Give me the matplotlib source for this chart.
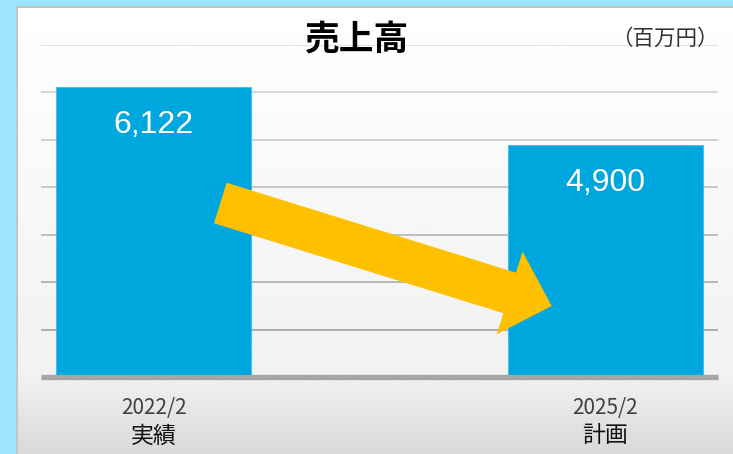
import numpy as np
import matplotlib
matplotlib.use('Agg')
import matplotlib.pyplot as plt
import matplotlib.patches as mpatches
from matplotlib.transforms import Affine2D

# data
periods = ['2022/2', '2025/2']
kinds = ['実績', '計画']
sales = [6122, 4900]
title = '売上高'
unit = '（百万円）'

W, H = 733, 454
plt.rcParams['font.family'] = ['Noto Sans CJK JP', 'DejaVu Sans']

fig = plt.figure(figsize=(W / 100, H / 100), dpi=100)
fig.patch.set_facecolor('#9de4fc')

# panel with vertical gradient
bg = fig.add_axes([17 / W, 0, (W - 17) / W, (H - 7) / H], zorder=0)
ys = np.linspace(7, H, 300)
shade = np.interp(ys, [7, 377, H], [1.0, 0.945, 0.85])
bg.imshow(np.repeat(shade[:, None], 2, axis=1), cmap='gray', vmin=0, vmax=1,
          aspect='auto', extent=[0, 1, 0, 1])
bg.set_xticks([]); bg.set_yticks([])
for name, s in bg.spines.items():
    s.set_color('#c4c4c4'); s.set_linewidth(1.5)
    if name in ('bottom', 'right'):
        s.set_visible(False)

ax = fig.add_axes([41 / W, (H - 377) / H, 677 / W, 332 / H], zorder=1)
ax.patch.set_alpha(0)
x = np.arange(len(sales))
ax.set_xlim(-0.25, 1.25)
ax.set_ylim(0, 7000)

# gridlines, darker toward the bottom
levels = np.arange(1000, 7001, 1000)
for lv in levels:
    g = np.interp(lv, [1000, 7000], [0.66, 0.87])
    ax.axhline(lv, color=(g, g, g), lw=1.3, zorder=1)

ax.bar(x, sales, width=0.432, color='#00a6de', edgecolor='#3bbbe8', lw=0.6, zorder=2)
ax.axhline(0, color='#a6a6a6', lw=3.8, zorder=3, clip_on=False, solid_capstyle='butt')

for xi, v in zip(x, sales):
    ax.annotate(f'{v:,}', (xi, v), xytext=(0, -38), textcoords='offset pixels',
                ha='center', va='center', color='white', fontsize=23,
                family='Liberation Sans', zorder=4)

for s in ax.spines.values():
    s.set_visible(False)
ax.set_yticks([])
ax.set_xticks([])
for xi, p, k in zip(x, periods, kinds):
    ax.annotate(p, (xi, 0), xytext=(0, -31), textcoords='offset pixels',
                ha='center', va='center', fontsize=15, color='#404040')
    ax.annotate(k, (xi, 0), xytext=(0, -59), textcoords='offset pixels',
                ha='center', va='center', fontsize=16.5, color='#111111')

fig.text(357 / W, 1 - 40 / H, title, ha='center', va='center', fontsize=25,
         fontweight='bold', color='black')
fig.text(665 / W, 1 - 39 / H, unit, ha='center', va='center', fontsize=15.5,
         color='#333333')

# big yellow arrow (image pixel coords, y down)
flip = Affine2D().scale(1, -1).translate(0, H)
arrow = mpatches.FancyArrow(220.3, 203, 331.4, 103, width=42.5, head_width=86.6,
                            head_length=44, length_includes_head=True,
                            color='#ffc000', lw=0, transform=flip)
fig.patches.append(arrow)
arrow.set_figure(fig)
arrow.set_zorder(5)

fig.savefig('out.png', dpi=100, facecolor=fig.get_facecolor())
